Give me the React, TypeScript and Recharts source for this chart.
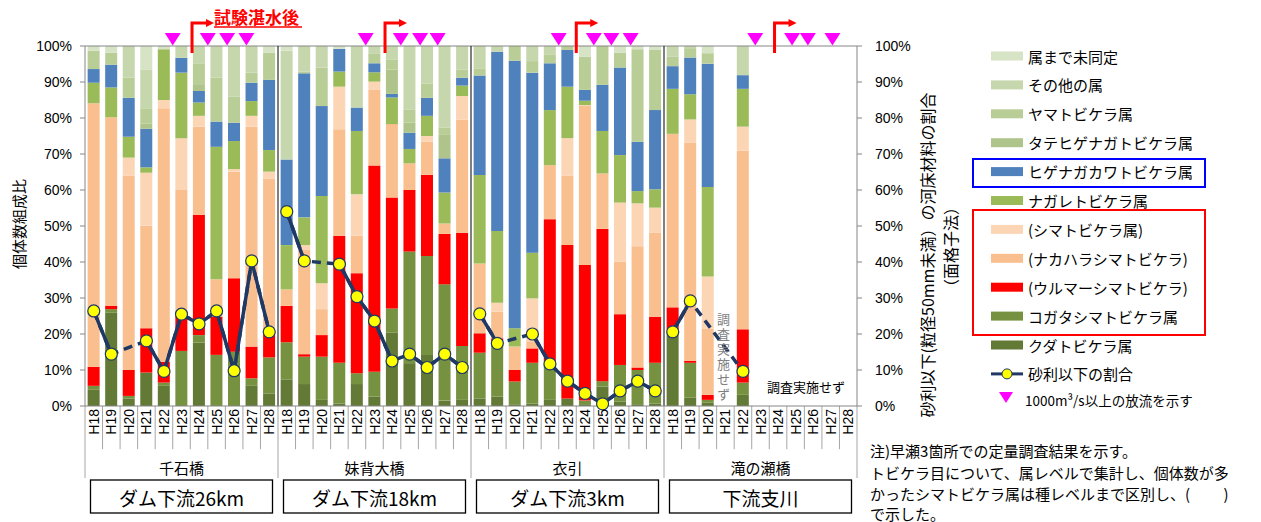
import React from 'react';
import { ComposedChart, Bar, Line, XAxis, YAxis, ReferenceLine, ReferenceDot } from 'recharts';

const sites = ['千石橋', '妹背大橋', '衣引', '滝の瀬橋'];
const siteNotes = ['ダム下流26km', 'ダム下流18km', 'ダム下流3km', '下流支川'];
const years = ['H18', 'H19', 'H20', 'H21', 'H22', 'H23', 'H24', 'H25', 'H26', 'H27', 'H28'];
const yTicks = [0, 10, 20, 30, 40, 50, 60, 70, 80, 90, 100];

const X = null;
// stacked composition (%), order: 千石橋 H18..H28, 妹背大橋, 衣引, 滝の瀬橋
const kuda = [4.5, 25.9, 2.1, 9.3, 5.6, 0, 17.6, 0, 0, 5.6, 3.5, 7.4, 6.1, 1.7, 0.7, 6.1, 2.6, 20.4, 11.9, 14.2, 1.5, 1.7, 2.1, 2.6, 0.5, 0.7, 1.7, 2.1, 0.5, 5.4, 1.2, 0.5, 0.7, 20.2, 2.3, 1.0, X, 3.1, X, X, X, X, X, X];
const kogata = [1.1, 1.0, 0.7, 0, 0.9, 15.3, 2.1, 14.2, 15.1, 2.1, 10.0, 10.3, 7.6, 12.0, 11.3, 3.0, 6.9, 6.7, 31.0, 27.5, 32.3, 15.0, 12.7, 15.3, 6.3, 11.3, 10.6, 0, 1.0, 1.5, 10.2, 9.5, 11.3, 0, 9.7, 0.7, X, 3.4, X, X, X, X, X, X];
const urumar = [5.3, 0.9, 7.2, 12.3, 5.8, 9.7, 33.4, 10.6, 20.4, 8.8, 7.1, 10.1, 0.7, 6.0, 35.3, 27.8, 57.3, 30.8, 17.1, 22.5, 14.0, 31.4, 5.4, 0.9, 3.2, 4.0, 39.6, 42.6, 37.7, 42.3, 14.1, 0.7, 12.8, 7.2, 0.5, 1.4, X, 14.8, X, X, X, X, X, X];
const nakahara = [73.2, 52.4, 54.0, 28.5, 70.4, 35.0, 24.5, 10.4, 29.6, 61.1, 42.6, 4.6, 28.9, 7.2, 29.6, 10.4, 21.0, 20.4, 7.4, 9.2, 2.9, 31.5, 19.4, 7.4, 6.5, 2.0, 15.0, 19.3, 44.1, 15.4, 14.6, 33.7, 23.3, 48.2, 60.6, 18.4, X, 49.6, X, X, X, X, X, X];
const shima = [0, 0, 5.0, 14.7, 2.3, 14.4, 3.0, 0, 0.7, 3.0, 1.9, 0, 1.4, 7.2, 11.8, 11.5, 2.3, 0, 0, 1.6, 0, 6.5, 0, 2.5, 0, 11.9, 0, 10.4, 0.3, 0, 16.4, 11.9, 7.0, 0, 6.5, 14.5, X, 6.7, X, X, X, X, X, X];
const nagare = [5.7, 8.3, 5.8, 1.5, 14.1, 18.2, 3.7, 36.8, 7.8, 4.1, 6.0, 12.3, 7.7, 24.2, 4.2, 17.6, 2.6, 7.4, 4.0, 5.6, 8.6, 2.9, 24.6, 19.9, 5.1, 12.7, 15.3, 14.3, 1.2, 11.8, 13.2, 3.4, 5.1, 12.5, 7.0, 24.8, X, 10.5, X, X, X, X, X, X];
const higenaga = [3.8, 6.3, 10.8, 10.7, 0, 4.1, 3.2, 7.0, 5.1, 5.1, 19.5, 23.8, 40.0, 25.0, 6.3, 6.5, 2.5, 1.0, 4.5, 5.0, 9.5, 2.2, 27.6, 49.8, 74.3, 50.0, 13.0, 10.2, 3.0, 12.8, 24.3, 13.7, 22.0, 6.3, 10.2, 34.3, X, 3.8, X, X, X, X, X, X];
const tatehige = [0, 0, 0, 1.5, 0, 0, 1.9, 0, 0, 0, 0, 0, 0, 0, 0, 0, 0, 6.8, 2.8, 0, 6.5, 0, 0, 0, 0, 0, 0, 0, 0, 0, 0, 0, 0, 0, 0, 0, X, 0, X, X, X, X, X, X];
const yamato = [5.1, 3.3, 5.6, 4.2, 0, 0, 5.8, 12.2, 7.2, 2.8, 7.5, 0, 0.5, 10.7, 0, 0, 2.6, 2.8, 3.7, 4.0, 2.0, 2.3, 2.0, 0, 4.1, 3.2, 2.5, 1.1, 9.2, 10.8, 4.1, 25.7, 16.7, 2.6, 2.6, 2.9, X, 0, X, X, X, X, X, X];
const sonota = [0, 0, 8.8, 10.8, 0, 3.3, 4.8, 8.8, 14.1, 7.4, 0, 30.2, 7.1, 6.0, 0, 17.1, 2.2, 3.7, 17.6, 10.4, 22.7, 6.5, 6.2, 1.6, 0, 4.2, 2.3, 0, 0, 0, 0, 0, 0, 3.0, 0.6, 0, X, 8.1, X, X, X, X, X, X];
const mido = [1.3, 1.9, 0, 6.5, 0.9, 0, 0, 0, 0, 0, 1.9, 1.3, 0, 0, 0.8, 0, 0, 0, 0, 0, 0, 0, 0, 0, 0, 0, 0, 0, 3.0, 0, 1.9, 0.9, 1.1, 0, 0, 2.0, X, 0, X, X, X, X, X, X];

// 砂利以下の割合 (%)
const gravel = [26.4, 14.4, X, 18.1, 9.6, 25.5, 22.8, 26.4, 9.8, 40.3, 20.6, 54.0, 40.3, X, 39.4, 30.4, 23.6, 12.5, 14.4, 10.7, 14.4, 10.7, 25.6, 17.4, X, 20.0, 11.7, 6.9, 3.5, 0.6, 4.2, 6.9, 4.2, 20.6, 29.2, X, X, 9.6, X, X, X, X, X, X];

// discharge events (>=1000 m3/s), positions between survey years on a 0..44 scale
const dischargeMarks = [5, 7, 8.1, 9.2, 16, 18, 19.1, 20.1, 27, 29, 30, 31.1, 38.2, 40.3, 41.2, 42.6];
// start of post test-impoundment period
const impoundStart = [6.1, 17.1, 28.0, 39.3];

const series = [
  { key: 'kuda', name: 'クダトビケラ属', color: '#627a35', data: kuda },
  { key: 'kogata', name: 'コガタシマトビケラ属', color: '#76913f', data: kogata },
  { key: 'urumar', name: '(ウルマーシマトビケラ)', color: '#ff0000', data: urumar },
  { key: 'nakahara', name: '(ナカハラシマトビケラ)', color: '#f9bf8f', data: nakahara },
  { key: 'shima', name: '(シマトビケラ属)', color: '#fcd5b5', data: shima },
  { key: 'nagare', name: 'ナガレトビケラ属', color: '#9bbb59', data: nagare },
  { key: 'higenaga', name: 'ヒゲナガカワトビケラ属', color: '#4f81bd', data: higenaga },
  { key: 'tatehige', name: 'タテヒゲナガトビケラ属', color: '#aec48a', data: tatehige },
  { key: 'yamato', name: 'ヤマトビケラ属', color: '#b9cd96', data: yamato },
  { key: 'sonota', name: 'その他の属', color: '#c6d6ad', data: sonota },
  { key: 'mido', name: '属まで未同定', color: '#d7e3c5', data: mido },
];

const groupOf = (i: number) => Math.floor(i / 11);

const rows = Array.from({ length: 44 }, (_, i) => {
  const g = groupOf(i);
  const r: any = { name: `${sites[g]}-${years[i % 11]}`, pos: i + 0.5 };
  series.forEach((s) => { r[s.key] = s.data[i]; });
  for (let k = 0; k < 4; k++) {
    r['s' + k] = k === g ? gravel[i] : null;
    r['d' + k] = k === g ? gravel[i] : null;
  }
  return r;
});

const LINE = '#1f3864';
const FONT = '"Noto Sans CJK JP", "Noto Sans", sans-serif';

const YearTick = (props: any) => {
  const { x, y, payload } = props;
  const label = String(payload.value).split('-')[1];
  const yy = y + 3;
  return (
    <text x={x} y={yy} transform={`rotate(-90 ${x} ${yy})`} textAnchor="end" dominantBaseline="central"
      fontSize={14} fontFamily={'"Liberation Sans", Arial, sans-serif'} fill="#000">{label}</text>
  );
};

const Triangle = (p: any) => {
  const { cx, cy } = p;
  return <polygon points={`${cx - 8},${cy - 13} ${cx + 8},${cy - 13} ${cx},${cy - 0.5}`} fill="#ff00ff" />;
};

const makeArrow = (withText: boolean) => (p: any) => {
  const { cx, cy } = p;
  return (
    <g>
      <path d={`M${cx},${cy + 7} V${cy - 23} H${cx + 15}`} stroke="#ff0000" strokeWidth={3} fill="none" />
      <polygon points={`${cx + 14},${cy - 27} ${cx + 22},${cy - 23} ${cx + 14},${cy - 19}`} fill="#ff0000" />
      {withText && (
        <g>
          <text x={cx + 22} y={cy - 22} fontSize={17} fontWeight="bold" fill="#ff0000" fontFamily={FONT}>試験湛水後</text>
          <line x1={cx + 22} x2={cx + 110} y1={cy - 19} y2={cy - 19} stroke="#ff0000" strokeWidth={1.5} />
        </g>
      )}
    </g>
  );
};

const makeGroupLabel = (g: number) => (p: any) => {
  const { cx, cy } = p;
  return (
    <g>
      <text x={cx} y={cy + 61} textAnchor="middle" dominantBaseline="central" fontSize={15} fontFamily={FONT} fill="#000">{sites[g]}</text>
      <rect x={cx - 91} y={cy + 74} width={182} height={33} fill="#fff" stroke="#000" strokeWidth={1.3} />
      <text x={cx} y={cy + 91} textAnchor="middle" dominantBaseline="central" fontSize={19} fontFamily={FONT} fill="#000">{siteNotes[g]}</text>
    </g>
  );
};

const VerticalNote = (p: any) => {
  const { cx, cy } = p;
  return (
    <text x={cx - 2} y={cy - 93} writingMode="vertical-rl" style={{ writingMode: 'vertical-rl' as any }}
      letterSpacing={2} fontSize={13} fill="#808080" fontFamily={FONT}>調査実施せず</text>
  );
};

const HorizontalNote = (p: any) => {
  const { cx, cy } = p;
  return <text x={cx} y={cy - 20} textAnchor="middle" dominantBaseline="central" fontSize={13} fill="#000" fontFamily={FONT}>調査実施せず</text>;
};

const legendRows = [...series].reverse();

export default function App() {
  const boundaries = Array.from({ length: 45 }, (_, i) => i);
  return (
    <div style={{ position: 'absolute', left: 0, top: 0, width: 1261, height: 522, background: '#fff', fontFamily: FONT }}>
      <ComposedChart width={1261} height={522} data={rows} margin={{ top: 46, right: 344, bottom: 66, left: 0 }} barCategoryGap="15%">
        <XAxis dataKey="name" interval={0} tick={<YearTick />} tickLine={false} tickSize={0} tickMargin={0}
          axisLine={{ stroke: '#868686' }} height={50} />
        <XAxis xAxisId="num" dataKey="pos" type="number" domain={[0, 44]} hide allowDataOverflow />
        <YAxis yAxisId="left" domain={[0, 100]} ticks={yTicks} width={85} tickFormatter={(v) => `${v}%`}
          axisLine={{ stroke: '#868686' }} tickLine={{ stroke: '#868686' }} tickSize={5} tickMargin={8}
          tick={{ fontSize: 14, fill: '#000', fontFamily: '"Liberation Sans", Arial, sans-serif' }} />
        <YAxis yAxisId="right" orientation="right" domain={[0, 100]} ticks={yTicks} width={60} tickFormatter={(v) => `${v}%`}
          axisLine={{ stroke: '#868686' }} tickLine={{ stroke: '#868686' }} tickSize={5} tickMargin={13}
          tick={{ fontSize: 14, fill: '#000', fontFamily: '"Liberation Sans", Arial, sans-serif', textAnchor: 'start' }} />
        <ReferenceLine yAxisId="left" y={100} stroke="#868686" />
        {series.map((s) => (
          <Bar key={s.key} dataKey={s.key} name={s.name} stackId="a" fill={s.color} yAxisId="left" isAnimationActive={false} />
        ))}
        {[11, 22, 33].map((b) => (
          <ReferenceLine key={'gb' + b} xAxisId="num" yAxisId="left" segment={[{ x: b, y: 0 }, { x: b, y: 100 }]} stroke="#000" strokeWidth={1} ifOverflow="visible" />
        ))}
        {boundaries.map((b) => (
          <ReferenceLine key={'tb' + b} xAxisId="num" yAxisId="left"
            segment={[{ x: b, y: 0 }, { x: b, y: b % 11 === 0 ? -20 : -12 }]} stroke="#a6a6a6" strokeWidth={1} ifOverflow="visible" />
        ))}
        {[0, 1, 2, 3].map((k) => (
          <Line key={'d' + k} dataKey={'d' + k} yAxisId="right" stroke={LINE} strokeWidth={3.5} strokeDasharray="9 6"
            dot={false} activeDot={false} connectNulls isAnimationActive={false} legendType="none" />
        ))}
        {[0, 1, 2, 3].map((k) => (
          <Line key={'s' + k} dataKey={'s' + k} yAxisId="right" stroke={LINE} strokeWidth={3.5}
            dot={{ r: 6, fill: '#ffff00', stroke: LINE, strokeWidth: 1.2 }} activeDot={false} isAnimationActive={false} legendType="none" />
        ))}
        {dischargeMarks.map((m, k) => (
          <ReferenceDot key={'tri' + k} xAxisId="num" yAxisId="left" x={m} y={100} ifOverflow="visible" shape={Triangle} />
        ))}
        {impoundStart.map((m, k) => (
          <ReferenceDot key={'arr' + k} xAxisId="num" yAxisId="left" x={m} y={100} ifOverflow="visible" shape={makeArrow(k === 0)} />
        ))}
        {[0, 1, 2, 3].map((g) => (
          <ReferenceDot key={'gl' + g} xAxisId="num" yAxisId="left" x={g * 11 + 5.5} y={0} ifOverflow="visible" shape={makeGroupLabel(g)} />
        ))}
        <ReferenceDot xAxisId="num" yAxisId="left" x={36.5} y={0} ifOverflow="visible" shape={VerticalNote} />
        <ReferenceDot xAxisId="num" yAxisId="left" x={41.1} y={0} ifOverflow="visible" shape={HorizontalNote} />
      </ComposedChart>
      <svg width={1261} height={522} style={{ position: 'absolute', left: 0, top: 0, pointerEvents: 'none' }}>
        <text x={18} y={224} transform="rotate(-90 18 224)" textAnchor="middle" dominantBaseline="central" fontSize={15} fontFamily={FONT} fill="#000">個体数組成比</text>
        <text x={927} y={255} transform="rotate(-90 927 255)" textAnchor="middle" dominantBaseline="central" fontSize={16} fontFamily={FONT} fill="#000">砂利以下(粒径50mm未満）の河床材料の割合</text>
        <text x={950} y={247} transform="rotate(-90 950 247)" textAnchor="middle" dominantBaseline="central" fontSize={16} fontFamily={FONT} fill="#000">（面格子法）</text>
        {legendRows.map((s, k) => {
          const cy = 56 + k * 28.9;
          return (
            <g key={s.key}>
              <rect x={991} y={cy - 4.5} width={32} height={9} fill={s.color} />
              <text x={1028} y={cy} dominantBaseline="central" fontSize={15} fontFamily={FONT} fill="#000">{s.name}</text>
            </g>
          );
        })}
        <g>
          <line x1={991} x2={1023} y1={56 + 11 * 28.9} y2={56 + 11 * 28.9} stroke={LINE} strokeWidth={3} />
          <circle cx={1007} cy={56 + 11 * 28.9} r={5} fill="#ffff00" stroke={LINE} strokeWidth={1} />
          <text x={1028} y={56 + 11 * 28.9} dominantBaseline="central" fontSize={15} fontFamily={FONT} fill="#000">砂利以下の割合</text>
        </g>
        <g>
          <polygon points="999,392 1013,392 1006,403" fill="#ff00ff" />
          <text x={1025} y={400} dominantBaseline="central" fontSize={13.5} fontFamily={FONT} fill="#000">1000m³/s以上の放流を示す</text>
        </g>
        <rect x={973} y={159} width={232} height={28} fill="none" stroke="#0000ff" strokeWidth={2} />
        <rect x={973} y={210} width={232} height={125} fill="none" stroke="#ff0000" strokeWidth={2} />
        <g fontSize={15} fontFamily={FONT} fill="#000">
          <text x={870} y={450} dominantBaseline="central">注)早瀬3箇所での定量調査結果を示す。</text>
          <text x={870} y={472} dominantBaseline="central">トビケラ目について、属レベルで集計し、個体数が多</text>
          <text x={870} y={493} dominantBaseline="central">かったシマトビケラ属は種レベルまで区別し、(　　 )</text>
          <text x={870} y={513} dominantBaseline="central">で示した。</text>
        </g>
      </svg>
    </div>
  );
}
